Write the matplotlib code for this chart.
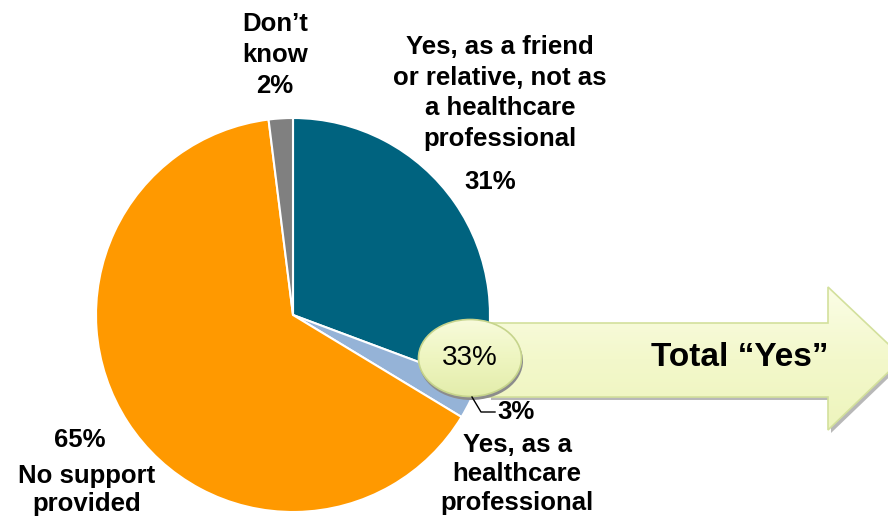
import numpy as np
import matplotlib.pyplot as plt
from matplotlib.patches import Polygon, Ellipse
from matplotlib.colors import LinearSegmentedColormap

# data
categories = ["Yes, as a friend\nor relative, not as\na healthcare\nprofessional",
              "Yes, as a\nhealthcare\nprofessional",
              "No support\nprovided",
              "Don\u2019t\nknow"]
shares = [31, 3, 65, 2]
colors = ["#00637f", "#95b3d7", "#ff9900", "#808080"]
total_yes = 33  # as printed on the chart

plt.rcParams['font.family'] = ['Liberation Sans', 'DejaVu Sans']

fig = plt.figure(figsize=(8.88, 5.18), dpi=100)
ax = fig.add_axes([0, 0, 1, 1])

# pie (y axis inverted, so startangle -90 = top, counterclock=True = clockwise on screen)
cx, cy, r = 293, 315, 197
ax.pie(shares, colors=colors, startangle=-90, counterclock=True,
       center=(cx, cy), radius=r, frame=True,
       wedgeprops=dict(edgecolor='white', linewidth=1.5))

ax.set_xlim(0, 888)
ax.set_ylim(518, 0)
ax.set_aspect('equal')
ax.axis('off')

# arrow with gradient fill
arrow_pts = [(488, 323), (828, 323), (828, 287), (903, 358),
             (828, 430), (828, 397), (488, 397)]
shadow = Polygon([(x + 3, y + 3) for x, y in arrow_pts], closed=True,
                 facecolor='#9a9a9a', edgecolor='none', alpha=0.7, zorder=2)
ax.add_patch(shadow)
arrow = Polygon(arrow_pts, closed=True, facecolor='none',
                edgecolor='#d3e09c', linewidth=1.2, zorder=3.1)
ax.add_patch(arrow)
green = LinearSegmentedColormap.from_list('g', ['#fbfde6', '#f3f8cb', '#eef5bd'])
grad = np.linspace(0, 1, 256).reshape(-1, 1)
im = ax.imshow(grad, cmap=green, extent=(488, 903, 430, 287), aspect='auto', zorder=3)
im.set_clip_path(arrow)
ax.set_xlim(0, 888)
ax.set_ylim(518, 0)

# ellipse with the total
ex, ey = 470, 358
ax.add_patch(Ellipse((ex + 1, ey + 3), 104, 78, facecolor='#8c8c8c',
                     edgecolor='none', zorder=4))
ell = Ellipse((ex, ey), 103, 77, facecolor='none', edgecolor='#c6d48c',
              linewidth=1.2, zorder=5.1)
ax.add_patch(ell)
im2 = ax.imshow(grad, cmap=LinearSegmentedColormap.from_list('e', ['#f8fbdc', '#eef5c0', '#e3edab']),
                extent=(ex - 52, ex + 52, ey + 39, ey - 39), aspect='auto', zorder=5)
im2.set_clip_path(ell)
ax.set_xlim(0, 888)
ax.set_ylim(518, 0)

ax.text(ex, ey, f"{total_yes}%", ha='center', va='center', fontsize=20, zorder=6)
ax.text(740, 358, "Total \u201cYes\u201d", ha='center', va='center',
        fontsize=24, fontweight='bold', zorder=6)

# labels
fs = 18.5
ls = 1.36
ax.text(500, 93, categories[0], ha='center', va='center', fontsize=fs,
        fontweight='bold', linespacing=ls)
ax.text(490, 182, f"{shares[0]}%", ha='center', va='center', fontsize=fs, fontweight='bold')

ax.text(275, 55, f"{categories[3]}\n{shares[3]}%", ha='center', va='center',
        fontsize=fs, fontweight='bold', linespacing=ls)

ax.text(80, 440, f"{shares[2]}%", ha='center', va='center', fontsize=fs, fontweight='bold')
ax.text(87, 490, categories[2], ha='center', va='center', fontsize=fs,
        fontweight='bold', linespacing=1.22)

ax.text(517, 474, categories[1], ha='center', va='center', fontsize=fs,
        fontweight='bold', linespacing=1.26)
ax.plot([472, 481, 495], [397, 412, 412], color='black', linewidth=1, zorder=6)
ax.text(497, 412, f"{shares[1]}%", ha='left', va='center', fontsize=fs, fontweight='bold')

fig.savefig('out.png', dpi=100)
